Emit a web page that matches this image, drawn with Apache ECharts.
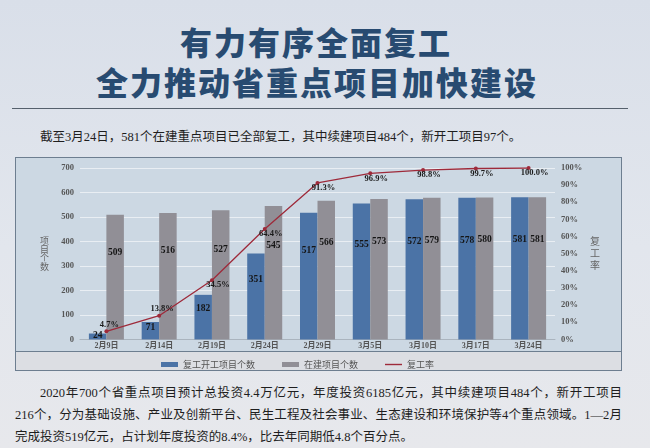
<!DOCTYPE html>
<html><head><meta charset="utf-8">
<script src="https://cdn.jsdelivr.net/npm/echarts/dist/echarts.min.js"></script>
<style>
html,body{margin:0;padding:0;width:650px;height:448px;overflow:hidden;}
body{background:linear-gradient(180deg,#d9dfe9 0%,#e2e6ed 55%,#e7e8ec 100%);position:relative;font-family:"Liberation Serif","Noto Sans CJK SC",serif;color:#1e1e1e;}
.t{position:absolute;width:650px;text-align:center;font-family:"Noto Sans CJK SC",sans-serif;font-weight:900;font-size:32px;letter-spacing:2px;color:#284b71;line-height:40px;white-space:nowrap;}
#rule{position:absolute;left:12px;top:108px;width:616px;height:1px;background:#55606c;}
.p{position:absolute;font-size:12.5px;line-height:18px;white-space:nowrap;}
.j{text-align:justify;text-align-last:justify;}
#box{position:absolute;left:15px;top:157px;width:607px;height:214px;border:1px solid #6d7e90;box-sizing:border-box;background:#dcdee3;}
#plotbg{position:absolute;left:0;top:0;width:605px;height:193px;background:#ccd8e3;border-bottom:1px solid #6d7e90;}
#chart{position:absolute;left:15px;top:157px;width:607px;height:214px;}
</style></head>
<body>
<div class="t" style="left:-9px;top:21px;">有力有序全面复工</div>
<div class="t" style="left:-8px;top:61px;">全力推动省重点项目加快建设</div>
<div id="rule"></div>
<div class="p" style="left:40px;top:128px;">截至3月24日，581个在建重点项目已全部复工，其中续建项目484个，新开工项目97个。</div>
<div id="box"><div id="plotbg"></div></div>
<div id="chart"></div>
<div class="p j" style="left:40px;top:384px;width:582px;">2020年700个省重点项目预计总投资4.4万亿元，年度投资6185亿元，其中续建项目484个，新开工项目</div>
<div class="p j" style="left:15px;top:406px;width:607px;">216个，分为基础设施、产业及创新平台、民生工程及社会事业、生态建设和环境保护等4个重点领域。1—2月</div>
<div class="p" style="left:15px;top:428px;">完成投资519亿元，占计划年度投资的8.4%，比去年同期低4.8个百分点。</div>
<script>
const categories = ['2月9日','2月14日','2月19日','2月24日','2月29日','3月5日','3月10日','3月17日','3月24日'];
const resumedCounts = [24, 71, 182, 351, 517, 555, 572, 578, 581];
const underConstruction = [509, 516, 527, 545, 566, 573, 579, 580, 581];
const resumeRate = [4.7, 13.8, 34.5, 64.4, 91.3, 96.9, 98.8, 99.7, 100.0];
const seriesNames = ['复工开工项目个数', '在建项目个数', '复工率'];

const serif = '"Liberation Serif","Noto Sans CJK SC",serif';
const chart = echarts.init(document.getElementById('chart'));
const barLabel = {show: true, position: ['50%', '30%'], align: 'center', verticalAlign: 'middle',
  fontFamily: serif, fontWeight: 'bold', fontSize: 9.5, color: '#151515'};
chart.setOption({
  animation: false,
  grid: {left: 65, right: 67, top: 11, bottom: 31.6},
  legend: {
    left: 141, top: 198, itemGap: 27, itemWidth: 17, itemHeight: 5,
    textStyle: {fontFamily: '"Noto Sans CJK SC",sans-serif', fontSize: 9, color: '#555'},
    data: [
      {name: seriesNames[0], icon: 'rect'},
      {name: seriesNames[1], icon: 'rect'},
      {name: seriesNames[2], icon: 'path://M0,0M17,5M0,1.8L17,1.8L17,3.2L0,3.2Z'}
    ]
  },
  xAxis: {
    type: 'category', data: categories,
    axisLine: {lineStyle: {color: '#aab4be'}},
    axisTick: {show: false},
    axisLabel: {fontFamily: serif, fontWeight: 'bold', fontSize: 8, color: '#555', margin: 3}
  },
  yAxis: [
    {type: 'value', min: 0, max: 700, interval: 100,
     name: '项\n目\n个\n数', nameLocation: 'middle', nameRotate: 0, nameGap: 31,
     nameTextStyle: {fontFamily: '"Noto Sans CJK SC",sans-serif', fontSize: 9, lineHeight: 8.5, color: '#666', padding: [0,0,15,0]},
     axisLine: {show: false}, axisTick: {show: false},
     axisLabel: {fontFamily: serif, fontWeight: 'bold', fontSize: 8.5, color: '#555', margin: 6},
     splitLine: {lineStyle: {color: '#e9eef3', width: 1}}},
    {type: 'value', min: 0, max: 100, interval: 10,
     name: '复\n工\n率', nameLocation: 'middle', nameRotate: 0, nameGap: 35,
     nameTextStyle: {fontFamily: '"Noto Sans CJK SC",sans-serif', fontSize: 10, lineHeight: 12, color: '#666', padding: [0,0,24,0]},
     axisLine: {show: false}, axisTick: {show: false},
     axisLabel: {formatter: '{value}%', fontFamily: serif, fontWeight: 'bold', fontSize: 8.5, color: '#555', margin: 6},
     splitLine: {show: false}}
  ],
  series: [
    {name: seriesNames[0], type: 'bar', data: resumedCounts, barWidth: 17.5, barGap: '0%',
     itemStyle: {color: '#4b73a6'}, label: barLabel},
    {name: seriesNames[1], type: 'bar', data: underConstruction, barWidth: 17.5, barGap: '0%',
     itemStyle: {color: '#918f96'}, label: barLabel},
    {name: seriesNames[2], type: 'line', yAxisIndex: 1, z: 5,
     data: resumeRate.map((v, i) => ({value: v, label: {offset: i < 2 ? [3, -7] : [6, 5]}})),
     symbol: 'circle', symbolSize: 4,
     itemStyle: {color: '#9e2a3a'}, lineStyle: {color: '#9e2a3a', width: 1.3},
     label: {show: true, position: 'inside', formatter: p => p.value.toFixed(1) + '%',
       fontFamily: serif, fontWeight: 'bold', fontSize: 8.5, color: '#1a1a1a'}}
  ]
});
</script>
</body></html>
